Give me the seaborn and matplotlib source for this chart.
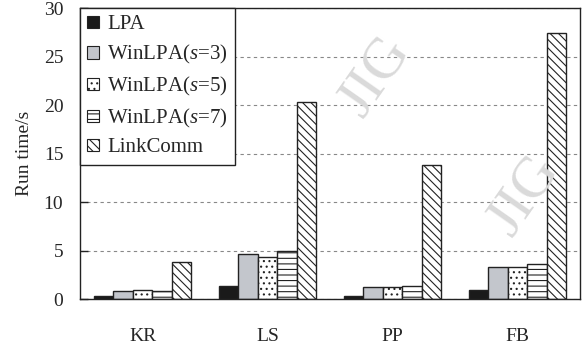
import pandas as pd
import seaborn as sns
import matplotlib.pyplot as plt
from matplotlib.patches import Patch

# data
datasets = ["KR", "LS", "PP", "FB"]
methods = ["LPA", "WinLPA($s$=3)", "WinLPA($s$=5)", "WinLPA($s$=7)", "LinkComm"]
lpa = [0.35, 1.35, 0.35, 0.9]
win3 = [0.8, 4.6, 1.2, 3.3]
win5 = [0.9, 4.3, 1.2, 3.3]
win7 = [0.8, 4.9, 1.35, 3.6]
linkcomm = [3.85, 20.3, 13.8, 27.4]
yticks = [0, 5, 10, 15, 20, 25, 30]

sns.set_theme(style="white")
plt.rcParams['font.family'] = ['Liberation Serif', 'DejaVu Serif']
plt.rcParams['mathtext.fontset'] = 'custom'
plt.rcParams['mathtext.rm'] = 'Liberation Serif'
plt.rcParams['mathtext.it'] = 'Liberation Serif:italic'
plt.rcParams['hatch.linewidth'] = 0.8

rows = []
for m, vals in zip(methods, [lpa, win3, win5, win7, linkcomm]):
    for d, v in zip(datasets, vals):
        rows.append({"dataset": d, "method": m, "time": v})
df = pd.DataFrame(rows)

colors = ["#1a1a1a", "#c3c6cc", "white", "white", "white"]
hatches = [None, None, "...", "---", "\\\\\\\\"]

fig = plt.figure(figsize=(5.86, 3.48), dpi=100)
ax = fig.add_axes([0.1365, 0.1408, 0.8535, 0.836])

# watermark
fig.text(0.64, 0.78, "JIG", fontsize=42, color="#dadada", rotation=55,
         ha="center", va="center", zorder=0)
fig.text(0.895, 0.44, "JIG", fontsize=42, color="#dadada", rotation=55,
         ha="center", va="center", zorder=0)
ax.patch.set_alpha(0)

sns.barplot(data=df, x="dataset", y="time", hue="method", hue_order=methods,
            palette=colors, width=0.78, edgecolor="#222222", linewidth=1.0,
            saturation=1, legend=False, ax=ax)

for cont, h in zip(ax.containers, hatches):
    for bar in cont:
        if h:
            bar.set_hatch(h)

ax.set_ylim(0, 30)
ax.set_xlim(-0.5, 3.5)
ax.set_yticks(yticks)
ax.yaxis.grid(True, linestyle=(0, (3, 3)), color="#888888", linewidth=0.8)
ax.set_axisbelow(True)
ax.set_xlabel("")
ax.set_ylabel("Run time/s", fontsize=14, labelpad=8)
ax.set_xticks(range(len(datasets)))
ax.set_xticklabels(datasets)
ax.set_xticks([0.5, 1.5, 2.5], minor=True)
ax.tick_params(axis="x", which="major", length=0, pad=21, labelsize=14)
ax.tick_params(axis="x", which="minor", direction="in", length=8, width=1, color="#222222")
ax.tick_params(axis="y", direction="in", length=6, width=1, color="#222222", pad=12, labelsize=14, left=True)
for s in ax.spines.values():
    s.set_color("#222222")
    s.set_linewidth(1.0)

handles = [Patch(facecolor=c, edgecolor="#222222", hatch=h, linewidth=0.8)
           for c, h in zip(colors, hatches)]
leg = ax.legend(handles, methods, loc="upper left", borderaxespad=0, fontsize=15,
                handlelength=0.55, handleheight=0.55, handletextpad=0.4,
                labelspacing=0.42, borderpad=0.35, fancybox=False, framealpha=1)
leg.get_frame().set_edgecolor("#222222")
leg.get_frame().set_linewidth(1.0)

fig.savefig("out.png", dpi=100)
